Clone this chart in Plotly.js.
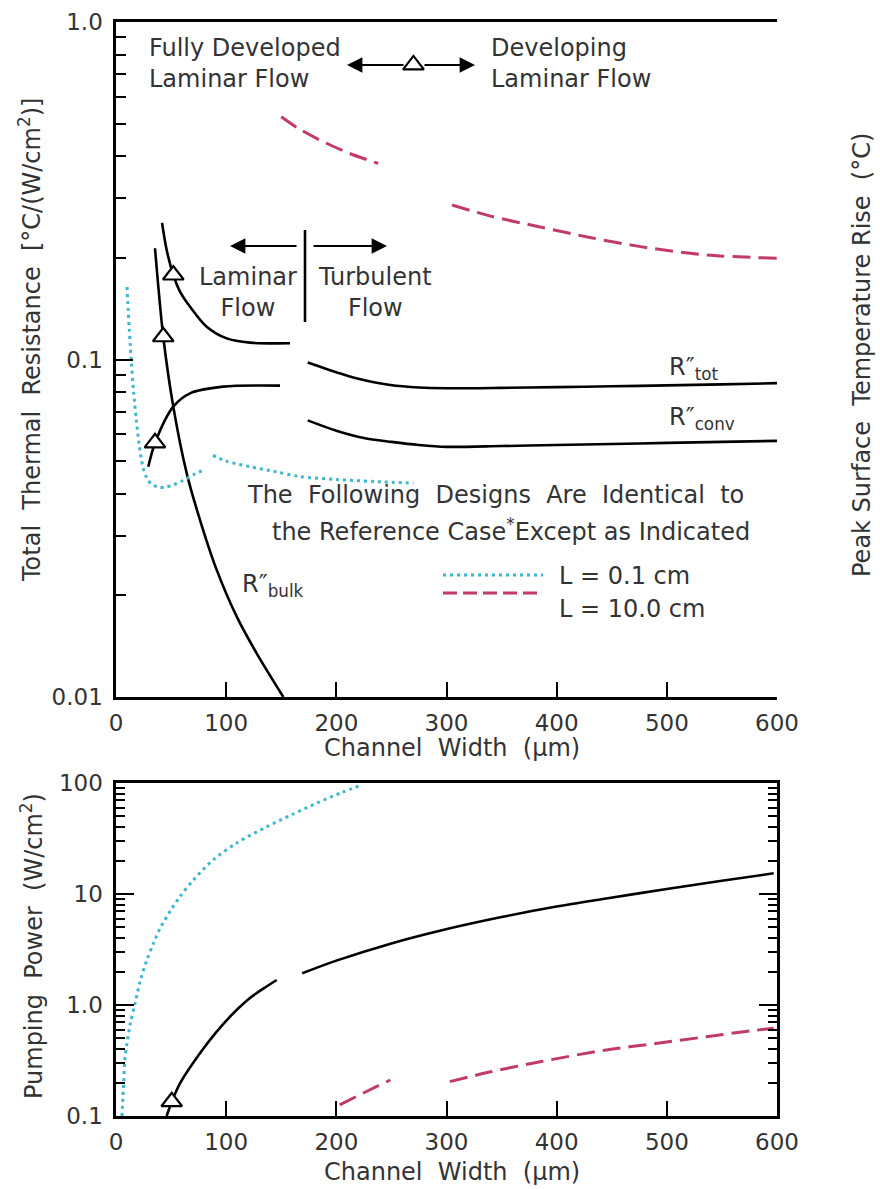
<!DOCTYPE html>
<html>
<head>
<meta charset="utf-8">
<script src="https://cdn.plot.ly/plotly-3.0.1.min.js"></script>
<style>html,body{margin:0;padding:0;background:#fff;}#chart{width:880px;height:1189px;}</style>
</head>
<body>
<div id="chart"></div>
<script>
// ---------- DATA ----------
// Channel width (µm) tick labels
const xTickVals = [0, 100, 200, 300, 400, 500, 600];
const xTickText = ['0', '100', '200', '300', '400', '500', '600'];

// Top panel: thermal resistance [°C/(W/cm2)], reference case
const rTotLamX  = [41.8, 46, 52, 58.1, 67.2, 82.3, 100.5, 121.6, 158];
const rTotLamY  = [0.254, 0.211, 0.178, 0.159, 0.1434, 0.1251, 0.1155, 0.1122, 0.1117];
const rTotTurbX = [174, 203, 218, 249, 275, 300, 350, 400, 450, 500, 550, 600];
const rTotTurbY = [0.098, 0.091, 0.088, 0.084, 0.0826, 0.0822, 0.0824, 0.0828, 0.0833, 0.0838, 0.0844, 0.0851];
const rConvLamX  = [29.3, 35.4, 52, 67.2, 97.4, 148.9];
const rConvLamY  = [0.0481, 0.0566, 0.0725, 0.0794, 0.0831, 0.0837];
const rConvTurbX = [174, 200, 225, 250, 275, 300, 350, 400, 450, 500, 550, 600];
const rConvTurbY = [0.066, 0.0615, 0.0585, 0.057, 0.0558, 0.0551, 0.0554, 0.0558, 0.0562, 0.0566, 0.057, 0.0574];
const rBulkX = [35.4, 42.9, 52, 64.2, 76.2, 91.4, 109.6, 127.7, 151.9];
const rBulkY = [0.2136, 0.1168, 0.0725, 0.046, 0.0335, 0.0238, 0.0173, 0.01347, 0.0100];

// Top panel: L = 0.1 cm (cyan dotted)
const cyanTopLamX  = [10, 11, 12, 13, 14, 16, 18.5, 21, 24.5, 28, 32, 38, 44, 52, 61, 70, 79];
const cyanTopLamY  = [0.164, 0.142, 0.124, 0.11, 0.098, 0.08, 0.066, 0.056, 0.048, 0.0445, 0.0428, 0.0419, 0.0418, 0.0425, 0.0438, 0.0455, 0.047];
const cyanTopTurbX = [88, 100, 122, 145, 167, 200, 235, 270];
const cyanTopTurbY = [0.052, 0.050, 0.0481, 0.0465, 0.0450, 0.0441, 0.0435, 0.0430];

// Top panel: L = 10.0 cm (magenta dashed)
const magTopLamX  = [150, 165, 185, 212, 238];
const magTopLamY  = [0.524, 0.485, 0.447, 0.408, 0.381];
const magTopTurbX = [305, 340, 385, 430, 476, 536, 600];
const magTopTurbY = [0.287, 0.266, 0.247, 0.230, 0.216, 0.204, 0.1995];

// Top panel: open-triangle markers (reference design points)
const triTopX = [52, 42.9, 35.4, 270];
const triTopY = [0.178, 0.1168, 0.0566, 0.746];

// Bottom panel: pumping power (W/cm2)
const cyanBotX = [5.4, 7, 8, 10, 13, 17, 22, 28, 34, 40, 50, 58, 70, 88, 110, 137, 160, 182, 205, 223];
const cyanBotY = [0.1, 0.2, 0.32, 0.45, 0.68, 1.0, 1.65, 2.54, 3.6, 4.9, 7.2, 9.46, 13.3, 20.2, 29, 40.4, 52, 65.7, 82, 96];
const blackBotLamX  = [46, 50.6, 58.1, 76.2, 91.4, 106.5, 121.6, 134, 145.9];
const blackBotLamY  = [0.1, 0.1345, 0.197, 0.367, 0.575, 0.842, 1.156, 1.41, 1.679];
const blackBotTurbX = [169, 200, 250, 294, 350, 400, 445, 500, 550, 597];
const blackBotTurbY = [1.93, 2.51, 3.59, 4.67, 6.2, 7.7, 9.1, 11.1, 13.15, 15.35];
const magBotLamX  = [203, 225, 249];
const magBotLamY  = [0.126, 0.162, 0.211];
const magBotTurbX = [303, 340, 385, 445, 490, 536, 570, 597];
const magBotTurbY = [0.204, 0.25, 0.308, 0.394, 0.45, 0.518, 0.575, 0.617];
const triBotX = [50.6];
const triBotY = [0.1345];

// Axis tick labels
const topLeftTickVals = [0.01, 0.1, 1];
const topLeftTickText = ['0.01', '0.1', '1.0'];
const topRightTickVals = [1, 10, 100];
const topRightTickText = ['1.0', '10', '100'];
const botTickVals = [0.1, 1, 10, 100];
const botTickText = ['0.1', '1.0', '10', '100'];

// ---------- STYLE ----------
const FONT = 'DejaVu Sans, Liberation Sans, Arial, sans-serif';
const TXT = '#333333';
const FS = 23;    // tick labels
const AFS = 24;   // annotations / titles
const CYAN = '#3db6cf';
const MAG = '#c23a6b';
const SP = '\u00a0\u00a0';   // wide word spacing used in the original lettering

function minorVals(lo, hi) {
  const v = [];
  for (let d = lo; d < hi; d++) for (let k = 2; k <= 9; k++) v.push(k * Math.pow(10, d));
  return v;
}

// pixel -> paper helpers for labels (plot area: x 116..777, y 22..1116)
const PX = p => (p - 116) / 661;
const PY = p => (1116 - p) / 1094;

function line(x, y, xa, ya, color, dash, width) {
  return {type: 'scatter', mode: 'lines', x: x, y: y, xaxis: xa, yaxis: ya,
    line: {color: color, width: width || 2.6, dash: dash || 'solid', shape: 'spline', smoothing: 0.85},
    hoverinfo: 'skip'};
}

const DOT = '3px,4px';
const DASH = '18px,8px';

const traces = [
  line(rTotLamX, rTotLamY, 'x', 'y', '#000'),
  line(rTotTurbX, rTotTurbY, 'x', 'y', '#000'),
  line(rConvLamX, rConvLamY, 'x', 'y', '#000'),
  line(rConvTurbX, rConvTurbY, 'x', 'y', '#000'),
  line(rBulkX, rBulkY, 'x', 'y', '#000'),
  line(cyanTopLamX, cyanTopLamY, 'x', 'y', CYAN, DOT, 3),
  line(cyanTopTurbX, cyanTopTurbY, 'x', 'y', CYAN, DOT, 3),
  line(magTopLamX, magTopLamY, 'x', 'y', MAG, DASH, 3),
  line(magTopTurbX, magTopTurbY, 'x', 'y', MAG, DASH, 3),
  {type: 'scatter', mode: 'markers', x: triTopX, y: triTopY, xaxis: 'x', yaxis: 'y',
   marker: {symbol: 'triangle-up', size: 18, color: '#fff', line: {color: '#000', width: 2.2}}, hoverinfo: 'skip'},
  line(cyanBotX, cyanBotY, 'x2', 'y3', CYAN, DOT, 3),
  line(blackBotLamX, blackBotLamY, 'x2', 'y3', '#000'),
  line(blackBotTurbX, blackBotTurbY, 'x2', 'y3', '#000'),
  line(magBotLamX, magBotLamY, 'x2', 'y3', MAG, DASH, 3),
  line(magBotTurbX, magBotTurbY, 'x2', 'y3', MAG, DASH, 3),
  {type: 'scatter', mode: 'markers', x: triBotX, y: triBotY, xaxis: 'x2', yaxis: 'y3',
   marker: {symbol: 'triangle-up', size: 18, color: '#fff', line: {color: '#000', width: 2.2}}, hoverinfo: 'skip'}
];

const tickFont = {family: FONT, size: FS, color: TXT};

function xAxis(anchor) {
  return {anchor: anchor, domain: [0, 1], range: [0, 600], tickmode: 'array',
    tickvals: xTickVals, ticktext: xTickText, ticks: 'inside', ticklen: 15, tickwidth: 2,
    tickcolor: '#000', showline: true, linecolor: '#000', linewidth: 2.6, mirror: true,
    showgrid: false, zeroline: false, tickfont: tickFont, ticklabelstandoff: 4};
}

const layout = {
  width: 880, height: 1189,
  margin: {l: 116, r: 103, t: 22, b: 73},
  paper_bgcolor: '#fff', plot_bgcolor: 'rgba(0,0,0,0)',
  showlegend: false,
  font: {family: FONT, size: FS, color: TXT},
  xaxis: xAxis('y'),
  xaxis2: xAxis('y3'),
  yaxis: {domain: [0.383, 1], anchor: 'x', type: 'log', range: [-2, 0],
    tickmode: 'array', tickvals: topLeftTickVals, ticktext: topLeftTickText,
    ticks: 'inside', ticklen: 17, tickwidth: 2, tickcolor: '#000',
    minor: {tickmode: 'array', tickvals: minorVals(-2, 0), ticks: 'inside', ticklen: 10, tickwidth: 2, tickcolor: '#000', showgrid: false},
    showline: true, linecolor: '#000', linewidth: 2.6, showgrid: false, zeroline: false,
    tickfont: tickFont, ticklabelstandoff: 6},
  yaxis2: {overlaying: 'y', side: 'right', anchor: 'x', type: 'log', range: [0, 2],
    tickmode: 'array', tickvals: topRightTickVals, ticktext: topRightTickText,
    ticks: 'inside', ticklen: 20, tickwidth: 2, tickcolor: '#000',
    minor: {tickmode: 'array', tickvals: minorVals(0, 2), ticks: 'inside', ticklen: 10, tickwidth: 2, tickcolor: '#000', showgrid: false},
    showline: true, linecolor: '#000', linewidth: 2.6, showgrid: false, zeroline: false,
    tickfont: tickFont, ticklabelstandoff: 12},
  yaxis3: {domain: [0, 0.3044], anchor: 'x2', type: 'log', range: [-1, 2],
    tickmode: 'array', tickvals: botTickVals, ticktext: botTickText,
    ticks: 'inside', ticklen: 18, tickwidth: 2, tickcolor: '#000', mirror: 'ticks',
    minor: {tickmode: 'array', tickvals: minorVals(-1, 2), ticks: 'inside', ticklen: 9, tickwidth: 2, tickcolor: '#000', showgrid: false},
    showline: true, linecolor: '#000', linewidth: 2.6, showgrid: false, zeroline: false,
    tickfont: tickFont, ticklabelstandoff: 6},
  shapes: [
    // Laminar | Turbulent separator
    {type: 'line', xref: 'paper', yref: 'paper', x0: PX(305), x1: PX(305), y0: PY(230), y1: PY(322),
     line: {color: '#000', width: 2.6}},
    // legend samples
    {type: 'line', xref: 'paper', yref: 'paper', x0: PX(443), x1: PX(543), y0: PY(575), y1: PY(575),
     line: {color: CYAN, width: 3, dash: DOT}},
    {type: 'line', xref: 'paper', yref: 'paper', x0: PX(443), x1: PX(543), y0: PY(593), y1: PY(593),
     line: {color: MAG, width: 3, dash: '14px,6px'}}
  ],
  annotations: []
};

function label(text, x, y, opts) {
  return Object.assign({xref: 'paper', yref: 'paper', x: PX(x), y: PY(y), text: text,
    showarrow: false, xanchor: 'left', yanchor: 'middle', align: 'left',
    font: {family: FONT, size: AFS, color: TXT}}, opts || {});
}
function arrow(xHead, y, dx) {
  return {xref: 'paper', yref: 'paper', x: PX(xHead), y: PY(y), ax: dx, ay: 0, text: '',
    showarrow: true, arrowhead: 2, arrowsize: 1.4, arrowwidth: 2.2, arrowcolor: '#000'};
}

layout.annotations.push(
  label('Fully Developed<br>Laminar Flow', 147, 63),
  label('Developing<br>Laminar Flow', 489, 63),
  label('Laminar<br>Flow', 248, 292, {xanchor: 'center', align: 'center'}),
  label('Turbulent<br>Flow', 375, 292, {xanchor: 'center', align: 'center'}),
  label(['The', 'Following', 'Designs', 'Are', 'Identical', 'to'].join(SP), 495, 495, {xanchor: 'center'}),
  label('the Reference Case<sup>*</sup>Except as Indicated', 511, 530, {xanchor: 'center'}),
  label('L = 0.1 cm', 557, 576),
  label('L = 10.0 cm', 557, 609),
  label('R″<sub>tot</sub>', 667, 368),
  label('R″<sub>conv</sub>', 667, 418),
  label('R″<sub>bulk</sub>', 240, 586),
  label('Total' + SP + 'Thermal' + SP + 'Resistance' + SP + '[°C/(W/cm<sup>2</sup>)]', 30, 340, {xanchor: 'center', textangle: -90}),
  label('Peak Surface' + SP + 'Temperature Rise' + SP + '(°C)', 862, 355, {xanchor: 'center', textangle: -90}),
  label('Pumping' + SP + 'Power' + SP + '(W/cm<sup>2</sup>)', 32, 946, {xanchor: 'center', textangle: -90}),
  label('Channel' + SP + 'Width' + SP + '(µm)', 452, 748, {xanchor: 'center'}),
  label('Channel' + SP + 'Width' + SP + '(µm)', 452, 1172, {xanchor: 'center'}),
  arrow(347, 65, 58),
  arrow(475, 65, -52),
  arrow(230, 246, 68),
  arrow(387, 246, -75)
);

Plotly.newPlot('chart', traces, layout, {staticPlot: true, displayModeBar: false});
</script>
</body>
</html>
